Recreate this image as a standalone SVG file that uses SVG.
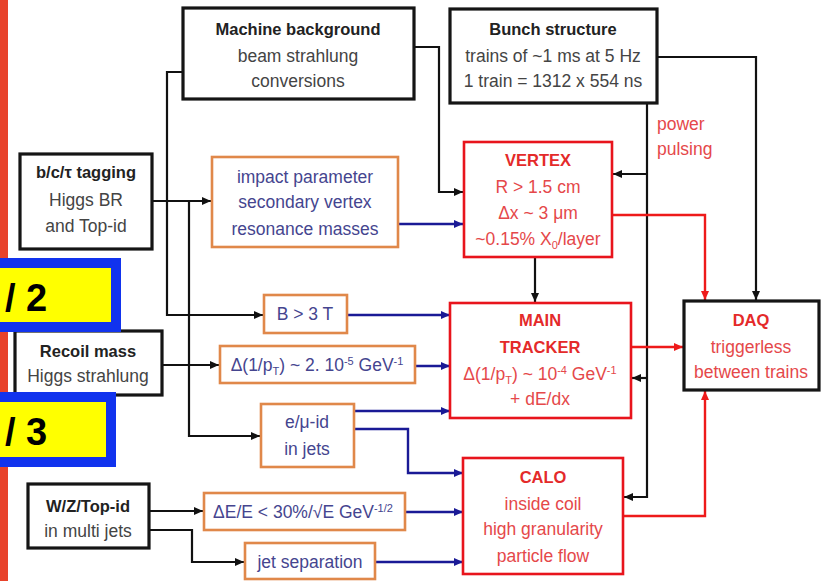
<svg xmlns="http://www.w3.org/2000/svg" width="822" height="581" viewBox="0 0 822 581">
<defs>
<style>
text{font-family:"Liberation Sans",Arial,sans-serif;text-anchor:middle;font-size:17.5px}
.bbox{fill:#fff;stroke:#151515;stroke-width:3.2}
.obox{fill:#fff;stroke:#e0884a;stroke-width:2.6}
.rbox{fill:#fff;stroke:#e8141c;stroke-width:2.6}
.bt{font-weight:bold;fill:#222;font-size:16.5px}
.bs{fill:#444}
.ot{fill:#45458f}
.rt{font-weight:bold;fill:#e42a2a;font-size:16.5px}
.rs{fill:#e5484a}
.k{fill:none;stroke:#111;stroke-width:2.2;marker-end:url(#ak)}
.b{fill:none;stroke:#1a1a96;stroke-width:2.4;marker-end:url(#ab)}
.r{fill:none;stroke:#ee1a1a;stroke-width:2.4;marker-end:url(#ar)}
.sub{font-size:11px}
.tag{fill:#ffff00;stroke:#1133ee;stroke-width:10}
.tagt{font-family:"Liberation Sans",Arial,sans-serif;font-weight:bold;font-size:38px;fill:#000;text-anchor:start}
</style>
<marker id="ak" markerUnits="userSpaceOnUse" markerWidth="9" markerHeight="9" refX="9" refY="4.5" orient="auto"><path d="M0,0.5 L9,4.5 L0,8.5 z" fill="#111"/></marker>
<marker id="ab" markerUnits="userSpaceOnUse" markerWidth="9" markerHeight="9" refX="9" refY="4.5" orient="auto"><path d="M0,0.5 L9,4.5 L0,8.5 z" fill="#1a1a96"/></marker>
<marker id="ar" markerUnits="userSpaceOnUse" markerWidth="9" markerHeight="9" refX="9" refY="4.5" orient="auto"><path d="M0,0.5 L9,4.5 L0,8.5 z" fill="#ee1a1a"/></marker>
</defs>
<rect width="822" height="581" fill="#fff"/>
<rect x="0" y="0" width="8" height="581" fill="#e8432b"/>

<g id="connectors">
<path class="k" d="M414,47 H439 V192 H463"/>
<path class="k" d="M183,72 H167 V315 H263"/>
<path class="k" d="M152,201 H211"/>
<path class="k" d="M189,201 V436 H260"/>
<path class="k" d="M162,365 H219"/>
<path class="k" d="M149,511 H203"/>
<path class="k" d="M149,530 H192 V562 H244"/>
<path class="k" d="M535,257 V302"/>
<path class="k" d="M647,103 V497 H624"/>
<path class="k" d="M647,174 H613"/>
<path class="k" d="M647,378 H632"/>
<path class="k" d="M657,57 H756 V300"/>
<path class="b" d="M398,224 H463"/>
<path class="b" d="M347,315 H450"/>
<path class="b" d="M415,366 H450"/>
<path class="b" d="M354,411 H450"/>
<path class="b" d="M354,429 H408 V473 H463"/>
<path class="b" d="M405,512 H463"/>
<path class="b" d="M375,562 H463"/>
<path class="r" d="M612,215 H705 V300"/>
<path class="r" d="M631,347 H683"/>
<path class="r" d="M623,516 H705 V391"/>
</g>

<g id="machine-background">
<rect class="bbox" x="183" y="8" width="231" height="91"/>
<text class="bt" x="298" y="35">Machine background</text>
<text class="bs" x="298" y="62">beam strahlung</text>
<text class="bs" x="298" y="87">conversions</text>
</g>

<g id="bunch-structure">
<rect class="bbox" x="450" y="9" width="207" height="94"/>
<text class="bt" x="553" y="35">Bunch structure</text>
<text class="bs" x="553" y="62">trains of ~1 ms at 5 Hz</text>
<text class="bs" x="553" y="87">1 train = 1312 x 554 ns</text>
</g>

<g id="power-pulsing">
<text class="rs" x="657" y="130" style="text-anchor:start">power</text>
<text class="rs" x="657" y="155" style="text-anchor:start">pulsing</text>
</g>

<g id="bct-tagging">
<rect class="bbox" x="20" y="154" width="132" height="95"/>
<text class="bt" x="86" y="178">b/c/τ tagging</text>
<text class="bs" x="86" y="206">Higgs BR</text>
<text class="bs" x="86" y="232">and Top-id</text>
</g>

<g id="impact-parameter">
<rect class="obox" x="212" y="157" width="186" height="90"/>
<text class="ot" x="305" y="183">impact parameter</text>
<text class="ot" x="305" y="208">secondary vertex</text>
<text class="ot" x="305" y="235">resonance masses</text>
</g>

<g id="vertex">
<rect class="rbox" x="464" y="142" width="148" height="115"/>
<text class="rt" x="538" y="166">VERTEX</text>
<text class="rs" x="538" y="193">R &gt; 1.5 cm</text>
<text class="rs" x="538" y="219">Δx ~ 3 μm</text>
<text class="rs" x="538" y="245">~0.15% X<tspan class="sub" dy="4">0</tspan><tspan dy="-4">/layer</tspan></text>
</g>

<g id="b-field">
<rect class="obox" x="264" y="295" width="83" height="38"/>
<text class="ot" x="305" y="320">B &gt; 3 T</text>
</g>

<g id="recoil-mass">
<rect class="bbox" x="15" y="331" width="147" height="64"/>
<text class="bt" x="88" y="357">Recoil mass</text>
<text class="bs" x="88" y="382">Higgs strahlung</text>
</g>

<g id="momentum-resolution">
<rect class="obox" x="220" y="346" width="195" height="37"/>
<text class="ot" x="317" y="371">Δ(1/p<tspan class="sub" dy="4">T</tspan><tspan dy="-4">) ~ 2. 10</tspan><tspan class="sub" dy="-6">-5</tspan><tspan dy="6"> GeV</tspan><tspan class="sub" dy="-6">-1</tspan></text>
</g>

<g id="main-tracker">
<rect class="rbox" x="450" y="303" width="181" height="115"/>
<text class="rt" x="540" y="326">MAIN</text>
<text class="rt" x="540" y="353">TRACKER</text>
<text class="rs" x="540" y="380">Δ(1/p<tspan class="sub" dy="4">T</tspan><tspan dy="-4">) ~ 10</tspan><tspan class="sub" dy="-6">-4</tspan><tspan dy="6"> GeV</tspan><tspan class="sub" dy="-6">-1</tspan></text>
<text class="rs" x="540" y="405">+ dE/dx</text>
</g>

<g id="daq">
<rect class="bbox" x="684" y="301" width="135" height="89"/>
<text class="rt" x="751" y="326">DAQ</text>
<text class="rs" x="751" y="353">triggerless</text>
<text class="rs" x="751" y="378">between trains</text>
</g>

<g id="e-mu-id">
<rect class="obox" x="261" y="404" width="93" height="63"/>
<text class="ot" x="307" y="428">e/μ-id</text>
<text class="ot" x="307" y="455">in jets</text>
</g>

<g id="calo">
<rect class="rbox" x="463" y="458" width="160" height="116"/>
<text class="rt" x="543" y="483">CALO</text>
<text class="rs" x="543" y="510">inside coil</text>
<text class="rs" x="543" y="535">high granularity</text>
<text class="rs" x="543" y="562">particle flow</text>
</g>

<g id="wz-top-id">
<rect class="bbox" x="28" y="484" width="121" height="64"/>
<text class="bt" x="88" y="512">W/Z/Top-id</text>
<text class="bs" x="88" y="537">in multi jets</text>
</g>

<g id="energy-resolution">
<rect class="obox" x="204" y="493" width="201" height="37"/>
<text class="ot" x="303" y="518">ΔE/E &lt; 30%/√E GeV<tspan class="sub" dy="-6">-1/2</tspan></text>
</g>

<g id="jet-separation">
<rect class="obox" x="245" y="543" width="130" height="36"/>
<text class="ot" x="310" y="568">jet separation</text>
</g>

<g id="tag-2">
<rect class="tag" x="-5" y="263" width="121" height="64"/>
<text class="tagt" x="5" y="311">/ 2</text>
</g>
<g id="tag-3">
<rect class="tag" x="-5" y="397" width="116" height="65"/>
<text class="tagt" x="5" y="445">/ 3</text>
</g>
</svg>
